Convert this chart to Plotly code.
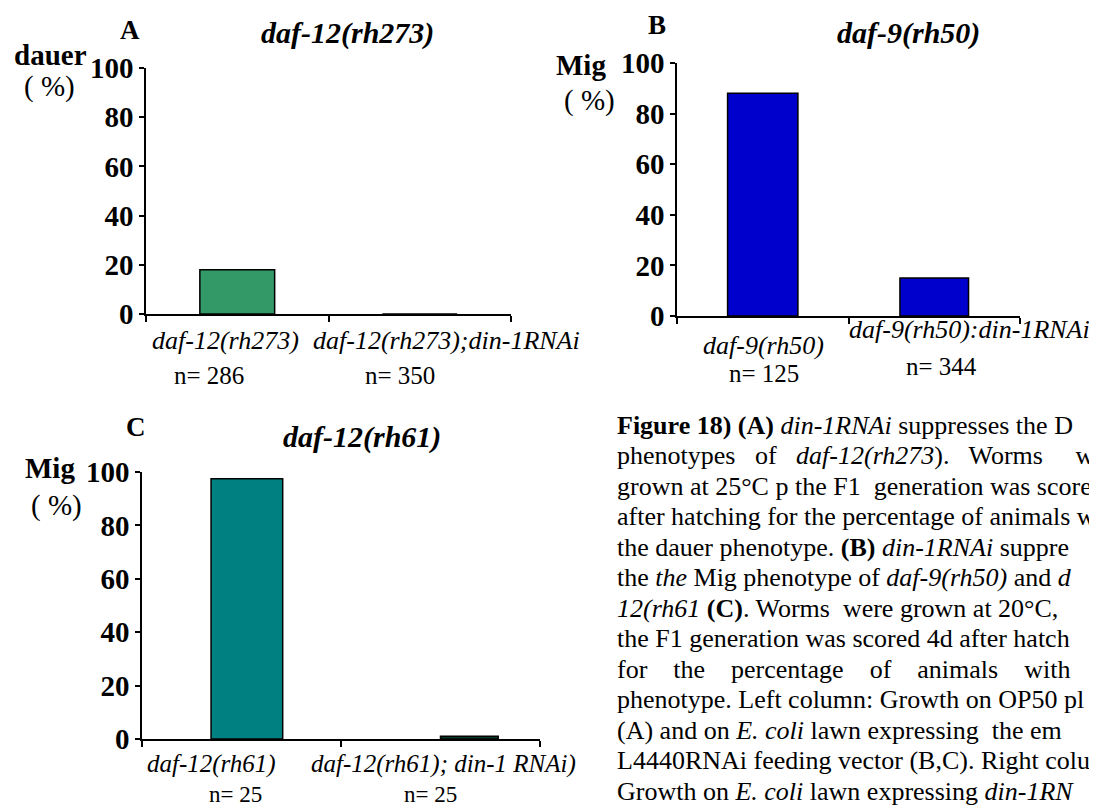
import plotly.graph_objects as go

# ---------------- data ----------------
a_categories = ["daf-12(rh273)", "daf-12(rh273);din-1RNAi"]
a_values = [18, 0]
a_n = ["n= 286", "n= 350"]

b_categories = ["daf-9(rh50)", "daf-9(rh50):din-1RNAi"]
b_values = [88, 15]
b_n = ["n= 125", "n= 344"]

c_categories = ["daf-12(rh61)", "daf-12(rh61); din-1 RNAi)"]
c_values = [97.5, 1]
c_n = ["n= 25", "n= 25"]

y_ticks = [0, 20, 40, 60, 80, 100]

caption_lines = [
    "<b>Figure 18)</b> <b>(A)</b> <i>din-1RNAi</i> suppresses the D",
    "phenotypes   of   <i>daf-12(rh273</i>).   Worms     w",
    "grown at 25°C p the F1  generation was scored",
    "after hatching for the percentage of animals w",
    "the dauer phenotype. <b>(B)</b> <i>din-1RNAi</i> suppre",
    "the <i>the</i> Mig phenotype of <i>daf-9(rh50)</i> and <i>d</i>",
    "<i>12(rh61</i> <b>(C)</b>. Worms  were grown at 20°C,",
    "the F1 generation was scored 4d after hatch",
    "for    the    percentage    of    animals    with    M",
    "phenotype. Left column: Growth on OP50 pl",
    "(A) and on <i>E. coli</i> lawn expressing  the em",
    "L4440RNAi feeding vector (B,C). Right colu",
    "Growth on <i>E. coli</i> lawn expressing <i>din-1RN</i>",
]

# ---------------- style ----------------
W, H = 1097, 805
OFF = 8  # page offset of the plot div
SERIF = "Liberation Serif, Times New Roman, serif"


def px(x):
    return (x - OFF) / W


def py(y):
    return 1 - (y - OFF) / H


fig = go.Figure()

line_style = dict(color="black", width=1.5)

fig.add_trace(go.Bar(x=a_categories, y=a_values, xaxis="x", yaxis="y",
                     marker=dict(color="#339966", line=line_style), width=0.41))
fig.add_trace(go.Bar(x=b_categories, y=b_values, xaxis="x2", yaxis="y2",
                     marker=dict(color="#0000CC", line=line_style), width=[0.41, 0.40]))
fig.add_trace(go.Bar(x=c_categories, y=c_values, xaxis="x3", yaxis="y3",
                     marker=dict(color=["#008080", "#0B3A2C"], line=line_style),
                     width=[0.36, 0.29], offset=[-0.153, 0.0]))


def xaxis_cfg(domain, anchor):
    return dict(domain=domain, anchor=anchor, type="category", range=[-0.5, 1.5],
                showline=True, linecolor="black", linewidth=1.5,
                ticks="outside", tickson="boundaries", ticklen=6, tickcolor="black",
                tickwidth=1.5, showticklabels=False, showgrid=False, zeroline=False,
                automargin=False)


def yaxis_cfg(domain, anchor):
    return dict(domain=domain, anchor=anchor, range=[0, 100], tickvals=y_ticks,
                showline=True, linecolor="black", linewidth=1.5,
                ticks="outside", ticklen=5, tickcolor="black", tickwidth=1.5,
                tickfont=dict(family=SERIF, size=29, color="black", weight="bold"),
                showgrid=False, zeroline=False, automargin=False)


fig.update_layout(
    template="none",
    width=W, height=H, margin=dict(l=0, r=0, t=0, b=0, pad=0, autoexpand=False),
    paper_bgcolor="white", plot_bgcolor="white", showlegend=False,
    xaxis=xaxis_cfg([px(146), px(511)], "y"),
    yaxis=yaxis_cfg([py(314), py(68)], "x"),
    xaxis2=xaxis_cfg([px(677), px(1020)], "y2"),
    yaxis2=yaxis_cfg([py(316), py(63)], "x2"),
    xaxis3=xaxis_cfg([px(142), px(540)], "y3"),
    yaxis3=yaxis_cfg([py(739), py(472)], "x3"),
)

ann = []


def paper_text(text, x, y, size, bold=False, italic=False, anchor="center"):
    t = text
    if italic:
        t = "<i>" + t + "</i>"
    if bold:
        t = "<b>" + t + "</b>"
    ann.append(dict(text=t, x=px(x), y=py(y), xref="paper", yref="paper",
                    xanchor=anchor, yanchor="middle", showarrow=False,
                    font=dict(family=SERIF, size=size, color="black")))


# panel letters, titles, y titles
paper_text("A", 130, 30, 27, bold=True)
paper_text("daf-12(rh273)", 347, 33, 30, bold=True, italic=True)
paper_text("dauer", 50, 55, 29, bold=True)
paper_text("( %)", 49, 87, 29)

paper_text("B", 657, 25, 27, bold=True)
paper_text("daf-9(rh50)", 908, 33, 30, bold=True, italic=True)
paper_text("Mig", 581, 65, 29, bold=True)
paper_text("( %)", 589, 100, 29)

paper_text("C", 136, 427, 27, bold=True)
paper_text("daf-12(rh61)", 362, 437, 30, bold=True, italic=True)
paper_text("Mig", 50, 468, 29, bold=True)
paper_text("( %)", 56, 505, 29)


def cat_label(xref, yref, cat, text, xshift, yshift, italic, size=26):
    t = "<i>" + text + "</i>" if italic else text
    ann.append(dict(text=t, x=cat, y=0, xref=xref, yref=yref, xanchor="center",
                    yanchor="middle", xshift=xshift, yshift=yshift, showarrow=False,
                    font=dict(family=SERIF, size=size, color="black")))


# (xshift, yshift, size) for label line and n line per category
a_pos = [((-12, -26, 26), (-28, -61, 25)), ((27, -26, 26), (-20, -61, 25))]
b_pos = [((1, -29, 26), (1, -57, 25)), ((35, -13, 26), (7, -50, 25))]
c_pos = [((-30, -25, 25), (-6, -55, 23)), ((3, -25, 25), (-10, -55, 23))]

for (xr, yr, cats, ns, pos) in [("x", "y", a_categories, a_n, a_pos),
                                ("x2", "y2", b_categories, b_n, b_pos),
                                ("x3", "y3", c_categories, c_n, c_pos)]:
    for cat, n, ((lx, ly, ls), (nx, ny, ns_)) in zip(cats, ns, pos):
        cat_label(xr, yr, cat, cat, lx, ly, True, ls)
        cat_label(xr, yr, cat, n, nx, ny, False, ns_)

# caption
cap_x, cap_y0, cap_dy = 615, 425, 30.5
for i, line in enumerate(caption_lines):
    txt = line.replace("  ", "\u00a0\u00a0")
    ann.append(dict(text=txt, x=px(cap_x), y=py(cap_y0 + i * cap_dy), xref="paper",
                    yref="paper", xanchor="left", yanchor="middle", showarrow=False,
                    align="left", font=dict(family=SERIF, size=26, color="black")))

fig.update_layout(annotations=ann)
fig.write_html("out.html")
